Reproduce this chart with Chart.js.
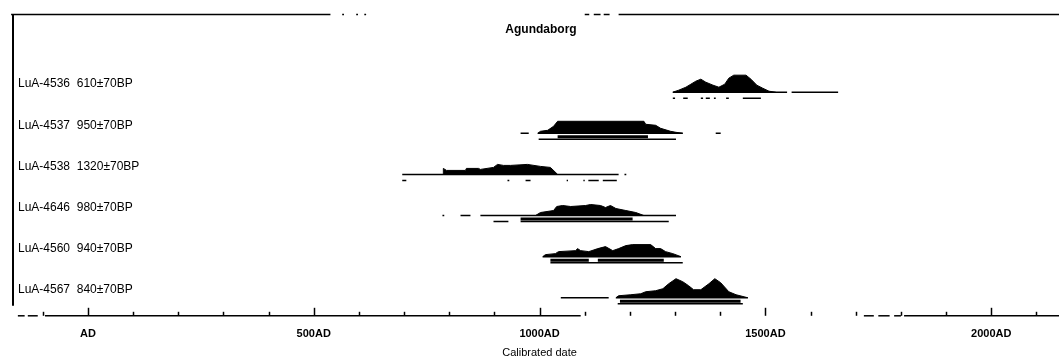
<!DOCTYPE html>
<html>
<head>
<meta charset="utf-8">
<script src="https://cdn.jsdelivr.net/npm/chart.js@4.4.1/dist/chart.umd.min.js"></script>
<style>
html,body{margin:0;padding:0;background:#fff;}
#wrap{width:1059px;height:363px;position:relative;}
</style>
</head>
<body>
<div id="wrap"><canvas id="c" width="1059" height="363"></canvas></div>
<script>
// ---------------- DATA ----------------
const plotTitle = "Agundaborg";
const axisTitle = "Calibrated date";
const sampleLabels = [
  "LuA-4536  610±70BP",
  "LuA-4537  950±70BP",
  "LuA-4538  1320±70BP",
  "LuA-4646  980±70BP",
  "LuA-4560  940±70BP",
  "LuA-4567  840±70BP"
];
const tickLabels = {0: "AD", 500: "500AD", 1000: "1000AD", 1500: "1500AD", 2000: "2000AD"};

// probability density (years AD, relative height)
const dens1Years  = [1295,1308,1324,1335,1346,1357,1368,1384,1397,1410,1419,1430,1457,1468,1481,1494,1508,1523];
const dens1Values = [0,2,5,8,11,13,10,7,5,8,14,17,17,13,7,4,1,0];
const dens2Years  = [996,1002,1018,1031,1040,1231,1235,1257,1268,1290,1302,1317];
const dens2Values = [0,2,3,7,12,12,9,8,5,2,1,0];
const dens3Years  = [787,787,794,836,838,865,869,898,907,920,936,973,1002,1024,1040];
const dens3Values = [0,6,4,4,6,6,5,7,10,9,9,10,8,7,0];
const dens4Years  = [991,1002,1031,1038,1051,1069,1102,1113,1135,1146,1157,1169,1191,1213,1231];
const dens4Values = [0,3,5,9,10,9,10,11,10,8,10,7,5,3,0];
const dens5Years  = [1007,1013,1035,1042,1080,1084,1091,1109,1129,1146,1162,1175,1191,1206,1246,1257,1268,1279,1295,1313];
const dens5Values = [0,2,3,5,6,8,6,5,8,10,6,8,11,12,12,8,8,5,3,0];
const dens6Years  = [1169,1175,1202,1224,1235,1257,1273,1286,1302,1317,1330,1341,1357,1375,1388,1401,1419,1435,1461];
const dens6Values = [0,2,3,4,6,7,9,14,19,16,12,8,8,14,19,15,6,3,0];

// baseline extents (years AD)
const line1 = [[1295,1548],[1558,1661]];
const line2 = [[958,976],[996,1317],[1390,1401]];
const line3 = [[696,1175],[1188,1192]];
const line4 = [[785,789],[825,847],[869,1302]];
const line5 = [[1007,1313]];
const line6 = [[1047,1153],[1169,1461]];

// 95.4% ranges
const r95_1 = [[1295,1300],[1318,1328],[1357,1362],[1368,1377],[1386,1390],[1413,1419],[1450,1490]];
const r95_2 = [[998,1302]];
const r95_3 = [[696,705],[929,933],[969,980],[1060,1063],[1097,1100],[1108,1131],[1140,1171]];
const r95_4 = [[898,931],[958,1286]];
const r95_5 = [[1024,1317]];
const r95_6 = [[1173,1450]];
// 68.2% ranges
const r68_1 = [];
const r68_2 = [[1040,1240]];
const r68_3 = [];
const r68_4 = [[958,1206]];
const r68_5 = [[1024,1109],[1129,1275]];
const r68_6 = [[1178,1445]];

// axis tick years (every century)
const tickYears = [-100,0,100,200,300,400,500,600,700,800,900,1000,1100,1200,1300,1400,1500,1600,1700,1800,1900,2000,2100];

// ---------------- BUILD ----------------
const densYears = [dens1Years,dens2Years,dens3Years,dens4Years,dens5Years,dens6Years];
const densVals  = [dens1Values,dens2Values,dens3Values,dens4Values,dens5Values,dens6Values];
const lines = [line1,line2,line3,line4,line5,line6];
const r95s = [r95_1,r95_2,r95_3,r95_4,r95_5,r95_6];
const r68s = [r68_1,r68_2,r68_3,r68_4,r68_5,r68_6];

const rowBase = i => 18 + 41*(5-i);

function segs(list, y){
  const out = [];
  list.forEach(s => { out.push({x:s[0],y:y},{x:s[1],y:y},{x:s[1],y:null}); });
  return out;
}

const datasets = [];
for (let i=0;i<6;i++){
  const b = rowBase(i);
  datasets.push({
    data: densYears[i].map((x,k)=>({x:x,y:b+densVals[i][k]})),
    borderColor:'#000', backgroundColor:'#000', borderWidth:1,
    fill:{value:b}, pointRadius:0, tension:0
  });
  datasets.push({
    data: segs(lines[i], b), borderColor:'#000', borderWidth:1.5,
    pointRadius:0, fill:false, spanGaps:false
  });
  datasets.push({
    data: segs(r95s[i], b-6), borderColor:'#000', borderWidth:1.5,
    pointRadius:0, fill:false, spanGaps:false
  });
  datasets.push({
    data: segs(r68s[i], b-3.5), borderColor:'#000', borderWidth:3,
    pointRadius:0, fill:false, spanGaps:false
  });
}

const topBorder = [[-170,537],[563,567],[594,598],[612,616],[1100,1110],[1120,1135],[1142,1155],[1175,2160]];
const bottomBorder = [[-155,-140],[-133,-111],[-95,1091],[1718,1740],[1750,1775],[1785,1800],[1807,2160]];

const framePlugin = {
  id:'frame',
  afterDatasetsDraw(chart){
    const ctx = chart.ctx, xs = chart.scales.x, ys = chart.scales.y, a = chart.chartArea;
    ctx.save();
    ctx.strokeStyle='#000'; ctx.fillStyle='#000';
    ctx.lineWidth=2;
    ctx.beginPath(); ctx.moveTo(a.left+1, a.top); ctx.lineTo(a.left+1, a.bottom-10); ctx.stroke();
    ctx.lineWidth=1.5;
    topBorder.forEach(s=>{ctx.beginPath();ctx.moveTo(xs.getPixelForValue(s[0]),a.top+0.5);ctx.lineTo(xs.getPixelForValue(s[1]),a.top+0.5);ctx.stroke();});
    bottomBorder.forEach(s=>{ctx.beginPath();ctx.moveTo(xs.getPixelForValue(s[0]),a.bottom);ctx.lineTo(xs.getPixelForValue(s[1]),a.bottom);ctx.stroke();});
    xs.ticks.forEach(t=>{
      const px = Math.round(xs.getPixelForValue(t.value))+0.5;
      const len = (t.value%500===0)?8:4;
      ctx.beginPath(); ctx.moveTo(px,a.bottom); ctx.lineTo(px,a.bottom-len); ctx.stroke();
    });
    // title
    ctx.font='bold 12px "Liberation Sans", Arial, sans-serif';
    ctx.textAlign='center'; ctx.textBaseline='middle';
    ctx.fillText(plotTitle, 541, 30);
    // axis title
    ctx.font='11px "Liberation Sans", Arial, sans-serif';
    ctx.fillText(axisTitle, xs.getPixelForValue(1000), 353);
    // row labels
    ctx.font='12px "Liberation Sans", Arial, sans-serif';
    ctx.textAlign='left';
    sampleLabels.forEach((t,i)=>{ ctx.fillText(t, a.left+6, ys.getPixelForValue(rowBase(i)+8)); });
    ctx.restore();
  }
};

new Chart(document.getElementById('c'), {
  type:'line',
  data:{datasets:datasets},
  options:{
    responsive:false, animation:false, devicePixelRatio:1,
    layout:{padding:{left:12,right:0,top:14,bottom:10}},
    plugins:{legend:{display:false},tooltip:{enabled:false},title:{display:false}},
    elements:{line:{borderCapStyle:'butt'}},
    scales:{
      x:{type:'linear', min:-168, max:2150,
         afterBuildTicks: s => { s.ticks = tickYears.map(v=>({value:v})); },
         grid:{display:false, drawTicks:false}, border:{display:false},
         ticks:{autoSkip:false, maxRotation:0, padding:12, color:'#000',
                font:{family:'"Liberation Sans", Arial, sans-serif', size:11, weight:'bold'},
                callback:v=> (tickLabels[v]!==undefined ? tickLabels[v] : '')},
         title:{display:false}
      },
      y:{type:'linear', min:0, max:301, display:false}
    }
  },
  plugins:[framePlugin]
});
</script>
</body>
</html>
